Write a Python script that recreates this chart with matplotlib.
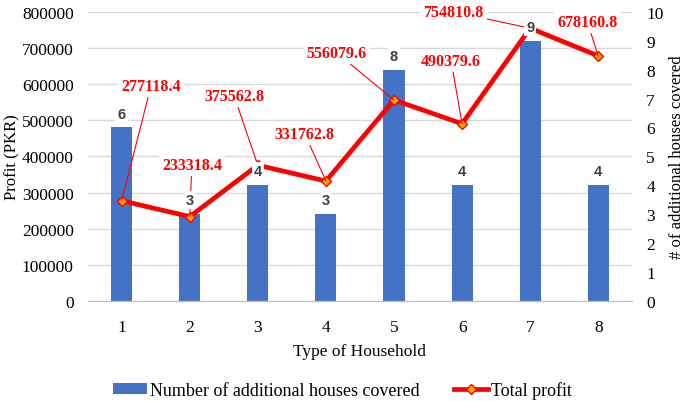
import numpy as np
import matplotlib
matplotlib.use("Agg")
import matplotlib.pyplot as plt

# data
household = [1, 2, 3, 4, 5, 6, 7, 8]
houses_covered = [6, 3, 4, 3, 8, 4, 9, 4]
total_profit = [277118.4, 233318.4, 375562.8, 331762.8, 556079.6, 490379.6, 754810.8, 678160.8]
profit_ticks = [0, 100000, 200000, 300000, 400000, 500000, 600000, 700000, 800000]
count_ticks = list(range(0, 11))

# where the profit labels sit (data coords of the left axis)
label_x = [1.43, 2.03, 2.65, 3.69, 4.16, 5.84, 5.87, 7.84]
label_y = [595000, 376500, 567500, 462000, 686500, 664400, 800000, 772000]

plt.rcParams['font.family'] = ['Liberation Serif', 'DejaVu Serif']

fig = plt.figure(figsize=(6.85, 4.02), dpi=100)
ax = fig.add_axes([0.128, 0.249, 0.795, 0.719])
ax2 = ax.twinx()

# bars on the right scale, behind the line
grid_pos = np.array(profit_ticks) / max(profit_ticks) * max(count_ticks)
for g in grid_pos[1:]:
    ax2.axhline(g, color='#D9D9D9', lw=1, zorder=0)
bars = ax2.bar(household, houses_covered, width=0.31, color='#4472C4', zorder=2,
               label='Number of additional houses covered')
ax2.set_ylim(0, 10)
ax2.set_yticks(count_ticks)
ax2.set_ylabel('# of additional houses covered', fontsize=12, labelpad=4)

ax.set_zorder(ax2.get_zorder() + 1)
ax.patch.set_visible(False)
line, = ax.plot(household, total_profit, color='red', lw=3.4, marker='D', ms=5,
                mfc='#FFA500', mec='red', mew=1, label='Total profit', zorder=3)
for x, y, lx, ly in zip(household, total_profit, label_x, label_y):
    ax.annotate(f'{y:.1f}', (x, y), xytext=(lx, ly), textcoords='data',
                ha='center', va='center', fontsize=11.5, fontweight='bold',
                color='red', zorder=4,
                bbox=dict(boxstyle='square,pad=0.2', fc='white', ec='none'),
                arrowprops=dict(arrowstyle='-', color='red', lw=0.8,
                                shrinkA=0, shrinkB=0))

# bar value labels drawn on the top axes so they sit over the line
for x, v in zip(household, houses_covered):
    ax.annotate(str(v), (x, v), xycoords=ax2.transData, xytext=(0, 5),
                textcoords='offset points', ha='center', va='bottom',
                fontsize=10.5, fontweight='bold', family='Liberation Sans',
                color='#404040', zorder=5,
                bbox=dict(boxstyle='square,pad=0.15', fc='white', ec='none'))

ax.set_ylim(0, 800000)
ax.set_yticks(profit_ticks)
ax.set_xlim(0.5, 8.5)
ax.set_xticks(household)
ax.set_ylabel('Profit (PKR)', fontsize=12, labelpad=1)
ax.set_xlabel('Type of Household', fontsize=12.5, labelpad=6)

for a in (ax, ax2):
    for s in ('top', 'left', 'right'):
        a.spines[s].set_visible(False)
    a.spines['bottom'].set_color('#BFBFBF')
    a.tick_params(length=0, labelsize=12.5, pad=10)
ax.tick_params(axis='x', pad=13)

fig.legend([bars, line], ['Number of additional houses covered', 'Total profit'],
           loc='center', bbox_to_anchor=(0.5, 0.027), ncol=2, frameon=False,
           fontsize=13, handlelength=1.9, handleheight=0.6, columnspacing=1.9,
           handletextpad=0.15)

fig.savefig('out.png', dpi=100)
